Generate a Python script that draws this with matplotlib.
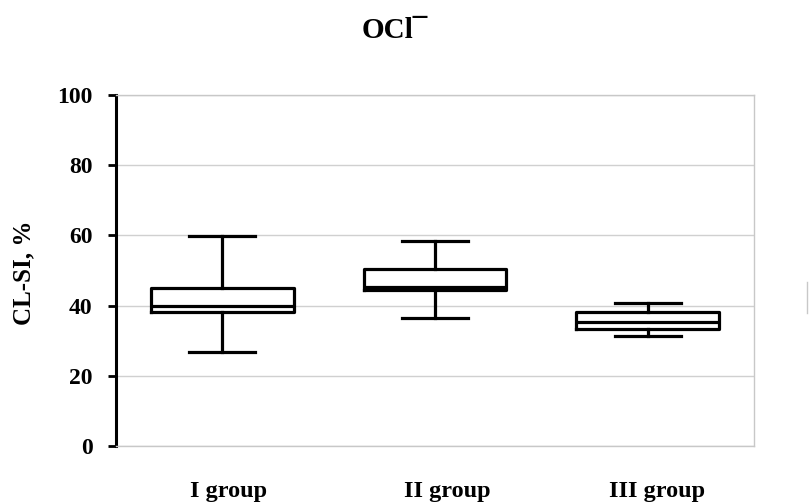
import matplotlib.pyplot as plt
from matplotlib.lines import Line2D

# values (CL-SI, %)
groups = ["I group", "II group", "III group"]
whisker_low = [26.8, 36.5, 31.3]
q1_values = [38.2, 44.4, 33.3]
medians = [39.9, 45.2, 35.3]
q3_values = [45.0, 50.4, 38.2]
whisker_high = [59.8, 58.4, 40.7]

y_ticks = [0, 20, 40, 60, 80, 100]

plt.rcParams["font.family"] = ["Liberation Serif", "DejaVu Serif"]
plt.rcParams["font.weight"] = "bold"

fig = plt.figure(figsize=(8.09, 5.04), dpi=100)
ax = fig.add_axes([116 / 809, 1 - 446 / 504, (754 - 116) / 809, (446 - 95) / 504])

stats = []
for i, name in enumerate(groups):
    stats.append({
        "label": name,
        "whislo": whisker_low[i],
        "q1": q1_values[i],
        "med": medians[i],
        "q3": q3_values[i],
        "whishi": whisker_high[i],
    })

line_style = {"color": "black", "linewidth": 2.3}
ax.bxp(
    stats,
    positions=[1, 2, 3],
    widths=0.67,
    capwidths=0.31,
    showfliers=False,
    boxprops=line_style,
    medianprops=line_style,
    whiskerprops=line_style,
    capprops=line_style,
    manage_ticks=False,
    zorder=3,
)

ax.set_xlim(0.5, 3.5)
ax.set_ylim(0, 100)
ax.set_yticks(y_ticks)
ax.set_yticklabels([str(t) for t in y_ticks], fontsize=17, fontweight="bold")
ax.set_xticks([])
ax.yaxis.grid(True, color="#d0d0d0", linewidth=1)
ax.set_axisbelow(True)

ax.spines["left"].set_color("black")
ax.spines["left"].set_linewidth(2.2)
for side in ["top", "right", "bottom"]:
    ax.spines[side].set_color("#c8c8c8")
    ax.spines[side].set_linewidth(1)
ax.tick_params(axis="y", direction="out", length=6, width=2, pad=11)

fig.text(24 / 809, 1 - 273 / 504, "CL-SI, %", rotation=90, ha="center", va="center",
         fontsize=18, fontweight="bold")

# category labels under the plot
label_x = [229, 447, 657]
for x, name in zip(label_x, groups):
    fig.text(x / 809, 1 - 497 / 504, name, ha="center", va="baseline",
             fontsize=17.5, fontweight="bold")

# title: OCl with the charge bar drawn high on the right
fig.text(395 / 809, 1 - 38 / 504, "OCl\u00af", ha="center", va="baseline",
         fontsize=21, fontweight="bold")

# clipped edge of a frame at the right border
fig.add_artist(Line2D([807 / 809, 807 / 809], [1 - 282 / 504, 1 - 313 / 504],
                      color="#c8c8c8", linewidth=1))

fig.savefig("out.png", dpi=100)
